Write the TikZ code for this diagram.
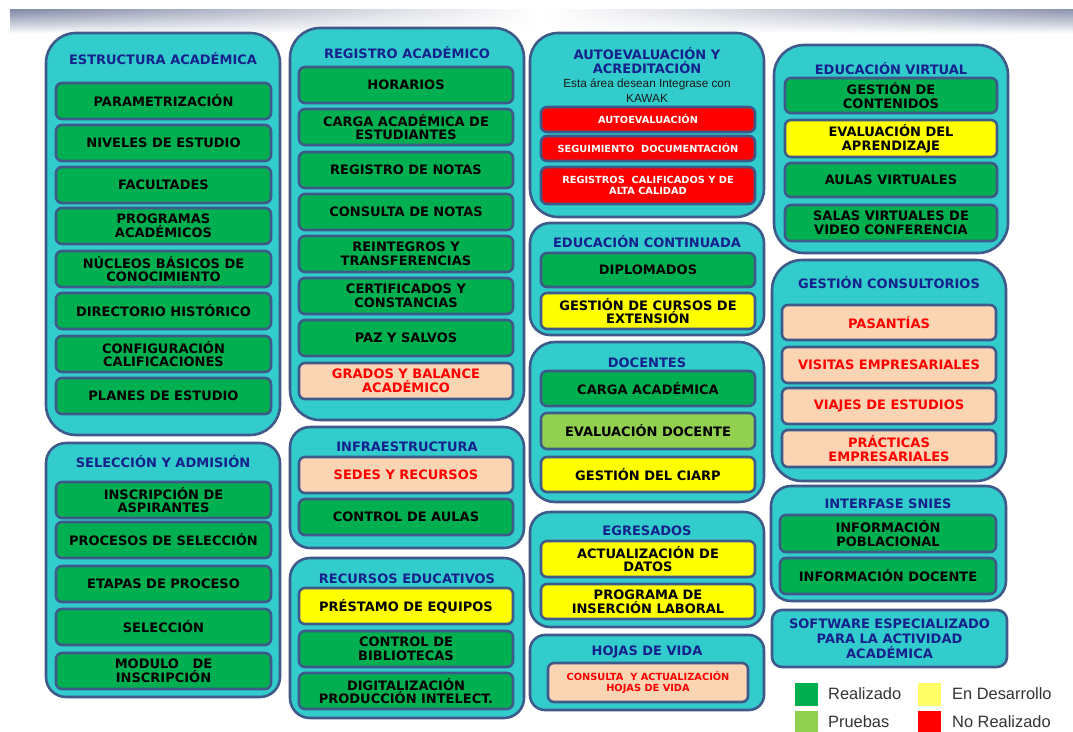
\documentclass[tikz,border=0pt]{standalone}
\usepackage{fontspec}
\newfontfamily\vfont{DejaVu Sans}
\newfontfamily\afont{Liberation Sans}
\newcommand\txtbig{\vfont\bfseries\fontsize{13}{13.8}\selectfont}
\newcommand\txtsmall{\vfont\bfseries\fontsize{9.8}{11.5}\selectfont}
\newcommand\txtnote{\afont\fontsize{11.8}{15}\selectfont}
\newcommand\txtleg{\afont\fontsize{16.4}{18}\selectfont}
\definecolor{cyanc}{HTML}{33CCCC}
\definecolor{bord}{HTML}{3D5A8A}
\definecolor{navy}{HTML}{15218C}
\definecolor{gr}{HTML}{00B050}
\definecolor{lgr}{HTML}{92D050}
\definecolor{yel}{HTML}{FFFF00}
\definecolor{lyel}{HTML}{FFFF66}
\definecolor{redc}{HTML}{FF0000}
\definecolor{peach}{HTML}{FBD4B4}
\definecolor{bandL}{HTML}{7F89A5}
\definecolor{bandR}{HTML}{8A93AD}
% a block given by its corners: name, style, x1, y1, x2, y2, text
\newcommand\blk[7]{\node[#2, minimum width={#5-#3}, minimum height={#6-#4}] (#1) at ({(#3+#5)/2},{(#4+#6)/2}) {#7};}
\tikzset{
  grp/.style={draw=bord, line width=2.6pt, fill=cyanc, inner sep=0pt},
  item/.style={draw=bord, line width=2.6pt, rounded corners=6pt, inner sep=0pt, align=center, font=\txtbig, text=black},
  done/.style={item, fill=gr},
  dev/.style={item, fill=yel},
  test/.style={item, fill=lgr},
  todo/.style={item, fill=peach, text=redc},
  nodev/.style={item, fill=redc, text=white, font=\txtsmall},
  hdr/.style={text=navy, font=\txtbig, align=center, inner sep=0pt},
  lgsq/.style={minimum width=23pt, minimum height=23pt, inner sep=0pt},
  lgtx/.style={font=\txtleg, anchor=west, inner sep=0pt, text=black!80}
}
\begin{document}
\begin{tikzpicture}[x=1pt,y=-1pt]
\useasboundingbox (0,0) rectangle (1073,731);
\fill[white] (0,0) rectangle (1073,731);
% banner strip along the top: grey at both ends, each lower row paler
\foreach \i in {0,...,24}{
  \pgfmathsetmacro\q{100*(1-\i/24)^0.9}
  \shade[left color=bandL!\q!white, right color=bandR!\q!white, middle color=white]
    (10,9+\i) rectangle (1073,10.6+\i);
}

% ---------- column 1 ----------
\blk{est}{grp, rounded corners=30pt}{46}{33}{280}{435}{}
\node[hdr] (estH) at (163,59) {ESTRUCTURA ACADÉMICA};
\blk{e1}{done}{56}{83}{271}{119}{PARAMETRIZACIÓN}
\blk{e2}{done}{56}{125}{271}{161}{NIVELES DE ESTUDIO}
\blk{e3}{done}{56}{167}{271}{203}{FACULTADES}
\blk{e4}{done}{56}{208}{271}{244}{PROGRAMAS\\ACADÉMICOS}
\blk{e5}{done}{56}{251}{271}{287}{NÚCLEOS BÁSICOS DE\\CONOCIMIENTO}
\blk{e6}{done}{56}{293}{271}{329}{DIRECTORIO HISTÓRICO}
\blk{e7}{done}{56}{336}{271}{372}{CONFIGURACIÓN\\CALIFICACIONES}
\blk{e8}{done}{56}{378}{271}{414}{PLANES DE ESTUDIO}

\blk{sel}{grp, rounded corners=20pt}{46}{443}{280}{697}{}
\node[hdr] (selH) at (163,462) {SELECCIÓN Y ADMISIÓN};
\blk{s1}{done}{56}{482}{271}{518}{INSCRIPCIÓN DE\\ASPIRANTES}
\blk{s2}{done}{56}{522}{271}{558}{PROCESOS DE SELECCIÓN}
\blk{s3}{done}{56}{566}{271}{602}{ETAPAS DE PROCESO}
\blk{s4}{done}{56}{609}{271}{645}{SELECCIÓN}
\blk{s5}{done}{56}{653}{271}{689}{MODULO\ \ \ DE\\INSCRIPCIÓN}

% ---------- column 2 ----------
\blk{reg}{grp, rounded corners=30pt}{290}{28}{524}{420}{}
\node[hdr] (regH) at (407,53) {REGISTRO ACADÉMICO};
\blk{r1}{done}{299}{67}{513}{103}{HORARIOS}
\blk{r2}{done}{299}{109}{513}{145}{CARGA ACADÉMICA DE\\ESTUDIANTES}
\blk{r3}{done}{299}{152}{513}{188}{REGISTRO DE NOTAS}
\blk{r4}{done}{299}{194}{513}{230}{CONSULTA DE NOTAS}
\blk{r5}{done}{299}{236}{513}{272}{REINTEGROS Y\\TRANSFERENCIAS}
\blk{r6}{done}{299}{278}{513}{314}{CERTIFICADOS Y\\CONSTANCIAS}
\blk{r7}{done}{299}{320}{513}{356}{PAZ Y SALVOS}
\blk{r8}{todo}{299}{363}{513}{399}{GRADOS Y BALANCE\\ACADÉMICO}

\blk{inf}{grp, rounded corners=20pt}{290}{427}{524}{548}{}
\node[hdr] (infH) at (407,447) {INFRAESTRUCTURA};
\blk{i1}{todo}{299}{457}{513}{493}{SEDES Y RECURSOS}
\blk{i2}{done}{299}{499}{513}{535}{CONTROL DE AULAS}

\blk{rec}{grp, rounded corners=20pt}{290}{558}{524}{718}{}
\node[hdr] (recH) at (407,579) {RECURSOS EDUCATIVOS};
\blk{c1}{dev}{299}{588}{513}{624}{PRÉSTAMO DE EQUIPOS}
\blk{c2}{done}{299}{631}{513}{667}{CONTROL DE\\BIBLIOTECAS}
\blk{c3}{done}{299}{673}{513}{709}{DIGITALIZACIÓN\\PRODUCCIÓN INTELECT.}

% ---------- column 3 ----------
\blk{aut}{grp, rounded corners=28pt}{530}{33}{764}{217}{}
\node[hdr, font=\vfont\bfseries\fontsize{13}{14}\selectfont] (autH) at (647,61) {AUTOEVALUACIÓN Y\\ACREDITACIÓN};
\node[align=center, inner sep=0pt, font=\txtnote, text=black!90] (autN) at (647,90.5) {Esta área desean Integrase con\\KAWAK};
\blk{a1}{nodev}{541}{107}{755}{132}{AUTOEVALUACIÓN}
\blk{a2}{nodev}{541}{136}{755}{161}{SEGUIMIENTO\ \ DOCUMENTACIÓN}
\blk{a3}{nodev}{541}{167}{755}{204}{REGISTROS\ \ CALIFICADOS Y DE\\ALTA CALIDAD}

\blk{con}{grp, rounded corners=20pt}{530}{223}{764}{335}{}
\node[hdr] (conH) at (647,242) {EDUCACIÓN CONTINUADA};
\blk{n1}{done}{541}{253}{755}{287}{DIPLOMADOS}
\blk{n2}{dev}{541}{293}{755}{329}{GESTIÓN DE CURSOS DE\\EXTENSIÓN}

\blk{doc}{grp, rounded corners=25pt}{530}{342}{764}{502}{}
\node[hdr] (docH) at (647,363) {DOCENTES};
\blk{d1}{done}{541}{371}{755}{406}{CARGA ACADÉMICA}
\blk{d2}{test}{541}{413}{755}{449}{EVALUACIÓN DOCENTE}
\blk{d3}{dev}{541}{457}{755}{492}{GESTIÓN DEL CIARP}

\blk{egr}{grp, rounded corners=20pt}{530}{512}{764}{627}{}
\node[hdr] (egrH) at (647,531) {EGRESADOS};
\blk{g1}{dev}{541}{541}{755}{577}{ACTUALIZACIÓN DE\\DATOS}
\blk{g2}{dev}{541}{584}{755}{619}{PROGRAMA DE\\INSERCIÓN LABORAL}

\blk{hoj}{grp, rounded corners=15pt}{530}{635}{764}{710}{}
\node[hdr] (hojH) at (647,652) {HOJAS DE VIDA};
\blk{h1}{todo, font=\txtsmall}{548}{663}{748}{702}{CONSULTA\ \ Y ACTUALIZACIÓN\\HOJAS DE VIDA}

% ---------- column 4 ----------
\blk{vir}{grp, rounded corners=30pt}{774}{45}{1008}{253}{}
\node[hdr] (virH) at (891,69) {EDUCACIÓN VIRTUAL};
\blk{v1}{done}{785}{78}{997}{113}{GESTIÓN DE\\CONTENIDOS}
\blk{v2}{dev}{785}{120}{997}{157}{EVALUACIÓN DEL\\APRENDIZAJE}
\blk{v3}{done}{785}{163}{997}{197}{AULAS VIRTUALES}
\blk{v4}{done}{785}{205}{997}{241}{SALAS VIRTUALES DE\\VIDEO CONFERENCIA}

\blk{cst}{grp, rounded corners=30pt}{772}{260}{1006}{481}{}
\node[hdr] (cstH) at (889,283) {GESTIÓN CONSULTORIOS};
\blk{t1}{todo}{782}{305}{996}{340}{PASANTÍAS}
\blk{t2}{todo}{782}{347}{996}{383}{VISITAS EMPRESARIALES}
\blk{t3}{todo}{782}{388}{996}{424}{VIAJES DE ESTUDIOS}
\blk{t4}{todo}{782}{430}{996}{467}{PRÁCTICAS\\EMPRESARIALES}

\blk{sni}{grp, rounded corners=20pt}{771}{486}{1006}{601}{}
\node[hdr] (sniH) at (888,504) {INTERFASE SNIES};
\blk{f1}{done}{780}{515}{996}{552}{INFORMACIÓN\\POBLACIONAL}
\blk{f2}{done}{780}{558}{996}{594}{INFORMACIÓN DOCENTE}

\blk{sof}{grp, rounded corners=10pt, hdr, font=\vfont\bfseries\fontsize{13}{15}\selectfont}{772}{610}{1007}{667}{SOFTWARE ESPECIALIZADO\\PARA LA ACTIVIDAD\\ACADÉMICA}

% ---------- legend ----------
\node[lgsq, fill=gr] (lgA) at (806.5,694) {};
\node[lgtx] (lgAt) at (828,694) {Realizado};
\node[lgsq, fill=lyel] (lgB) at (929.5,694) {};
\node[lgtx] (lgBt) at (952,694) {En Desarrollo};
\node[lgsq, fill=lgr] (lgC) at (806.5,722) {};
\node[lgtx] (lgCt) at (828,722) {Pruebas};
\node[lgsq, fill=redc] (lgD) at (929.5,722) {};
\node[lgtx] (lgDt) at (952,722) {No Realizado};
\end{tikzpicture}
\end{document}
